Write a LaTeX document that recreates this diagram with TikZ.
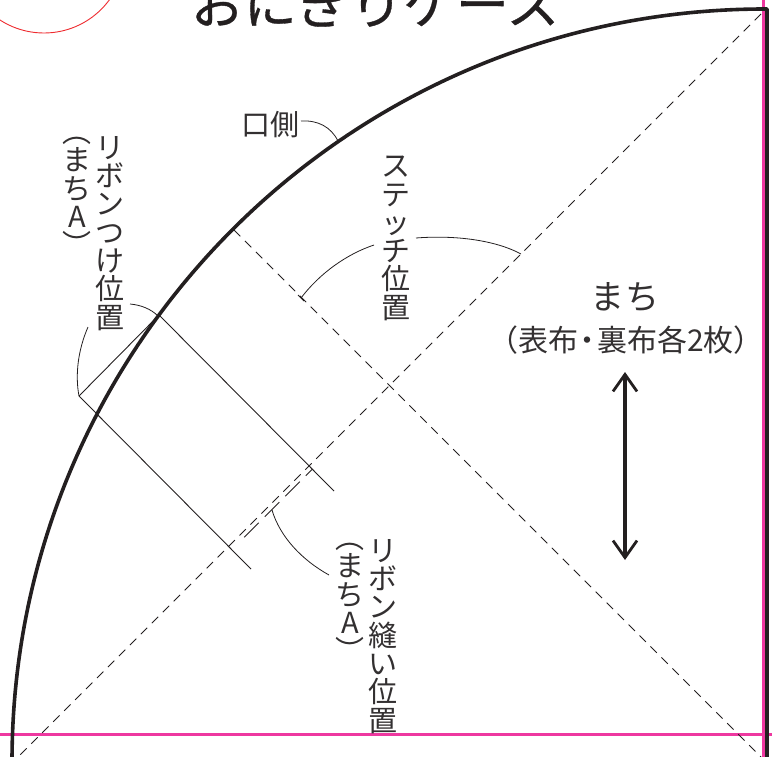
\documentclass[tikz,border=0pt]{standalone}
\usepackage{fontspec}
\setmainfont{Noto Sans CJK JP}
\newfontfamily\titlefont[FakeBold=0.6]{Noto Sans CJK JP}
\usetikzlibrary{arrows.meta}
\definecolor{ink}{HTML}{231F20}
\definecolor{txt}{HTML}{333031}
\definecolor{pink}{HTML}{EE38A0}
\definecolor{circ}{HTML}{EE2B2F}
\newcommand{\szb}{\fontsize{29}{28.3}\selectfont}
\tikzset{
  thickl/.style={draw=ink,line width=3.6pt},
  thinl/.style={draw=ink,line width=0.9pt},
  leader/.style={draw=ink,line width=0.8pt},
  dashl/.style={draw=ink,line width=0.9pt,dash pattern=on 9pt off 6.5pt},
  dashm/.style={draw=ink,line width=0.9pt,dash pattern=on 20.5pt off 8.5pt},
  pinkl/.style={draw=pink,line width=3.4pt},
  vtext/.style={text=txt,inner sep=0pt,align=center,text width=30pt,font=\szb},
  htext/.style={text=txt,inner sep=0pt,font=\szb},
  barb/.tip={Straight Barb[length=17pt,width=24pt,line width=2.8pt]},
}
\begin{document}
\begin{tikzpicture}[x=1pt,y=-1pt]
\useasboundingbox (0,0) rectangle (772,757);
\clip (0,0) rectangle (772,757);
% coordinates
\coordinate (d1a) at (761,14);
\coordinate (d1b) at (18,757);
\coordinate (d2a) at (234,230);
\coordinate (d2b) at (764,760);
\coordinate (r1a) at (159,315);
\coordinate (r1b) at (334,491);
\coordinate (r2a) at (79,396);
\coordinate (r2b) at (251,569);
\coordinate (p1) at (244.3,537.3);
\coordinate (p2) at (312,469.5);
% red circle
\draw[draw=circ,line width=0.9pt] (44,-48) circle (81);
% title
\node[text=ink,inner sep=0pt,anchor=base,font=\titlefont\fontsize{53}{53}\selectfont] (title) at (375,24) {おにぎりケース};
% pink guides
\draw[pinkl] (0,734.5) -- (772,734.5);
\draw[pinkl] (763.5,0) -- (763.5,757);
% outline
\draw[thickl,line join=round] (12,762) arc[start angle=180,end angle=270,radius=753] -- (767,9) -- (767,757);
% dashed
\draw[dashl] (d1a) -- (d1b);
\draw[dashl] (d2a) -- (d2b);
\draw[dashm] (p1) -- (p2);
% ribbon
\draw[thinl] (r1a) -- (r1b);
\draw[thinl] (r2a) -- (r2b);
\draw[thinl] (r1a) -- (r2a);
% leaders
\draw[leader] (301,121) .. controls (318,120) and (331,127) .. (338,141);
\draw[leader] (298,295) -- (304,301);
\draw[leader] (301,298) .. controls (320,273) and (347,254) .. (374,245);
\draw[leader] (416,238) .. controls (455,235) and (495,240) .. (521,254);
\draw[leader] (130,304) .. controls (141,305) and (151,309) .. (158,316);
\draw[leader] (88,327) .. controls (78,350) and (75,375) .. (79,396);
\draw[leader] (272,510) .. controls (280,537) and (302,560) .. (329,575);
% arrow
\draw[draw=ink,line width=3.6pt,barb-barb] (625,372) -- (625,560);
% texts
\node[htext] (kuchi) at (270,125) {口側};
\node[vtext,anchor=north] (v1) at (110,136) {リ\\ボ\\ン\\つ\\け\\位\\置};
\node[vtext,anchor=north] (v2) at (77,137) {︵\\ま\\ち\\A\\︶};
\node[vtext,anchor=north] (v3) at (396,156) {ス\\テ\\ッ\\チ\\位\\置};
\node[vtext,anchor=north] (v4) at (383,539) {リ\\ボ\\ン\\縫\\い\\位\\置};
\node[vtext,anchor=north] (v5) at (350,543) {︵\\ま\\ち\\A\\︶};
\node[text=txt,inner sep=0pt,font=\fontsize{34}{34}\selectfont] (machi) at (625,297) {ま\kern2pt ち};
\node[text=txt,inner sep=0pt,font=\fontsize{30}{30}\selectfont] (sub) at (626,340) {（表布\kern-5.5pt ・\kern-5.5pt 裏布各2枚）};
\end{tikzpicture}
\end{document}
